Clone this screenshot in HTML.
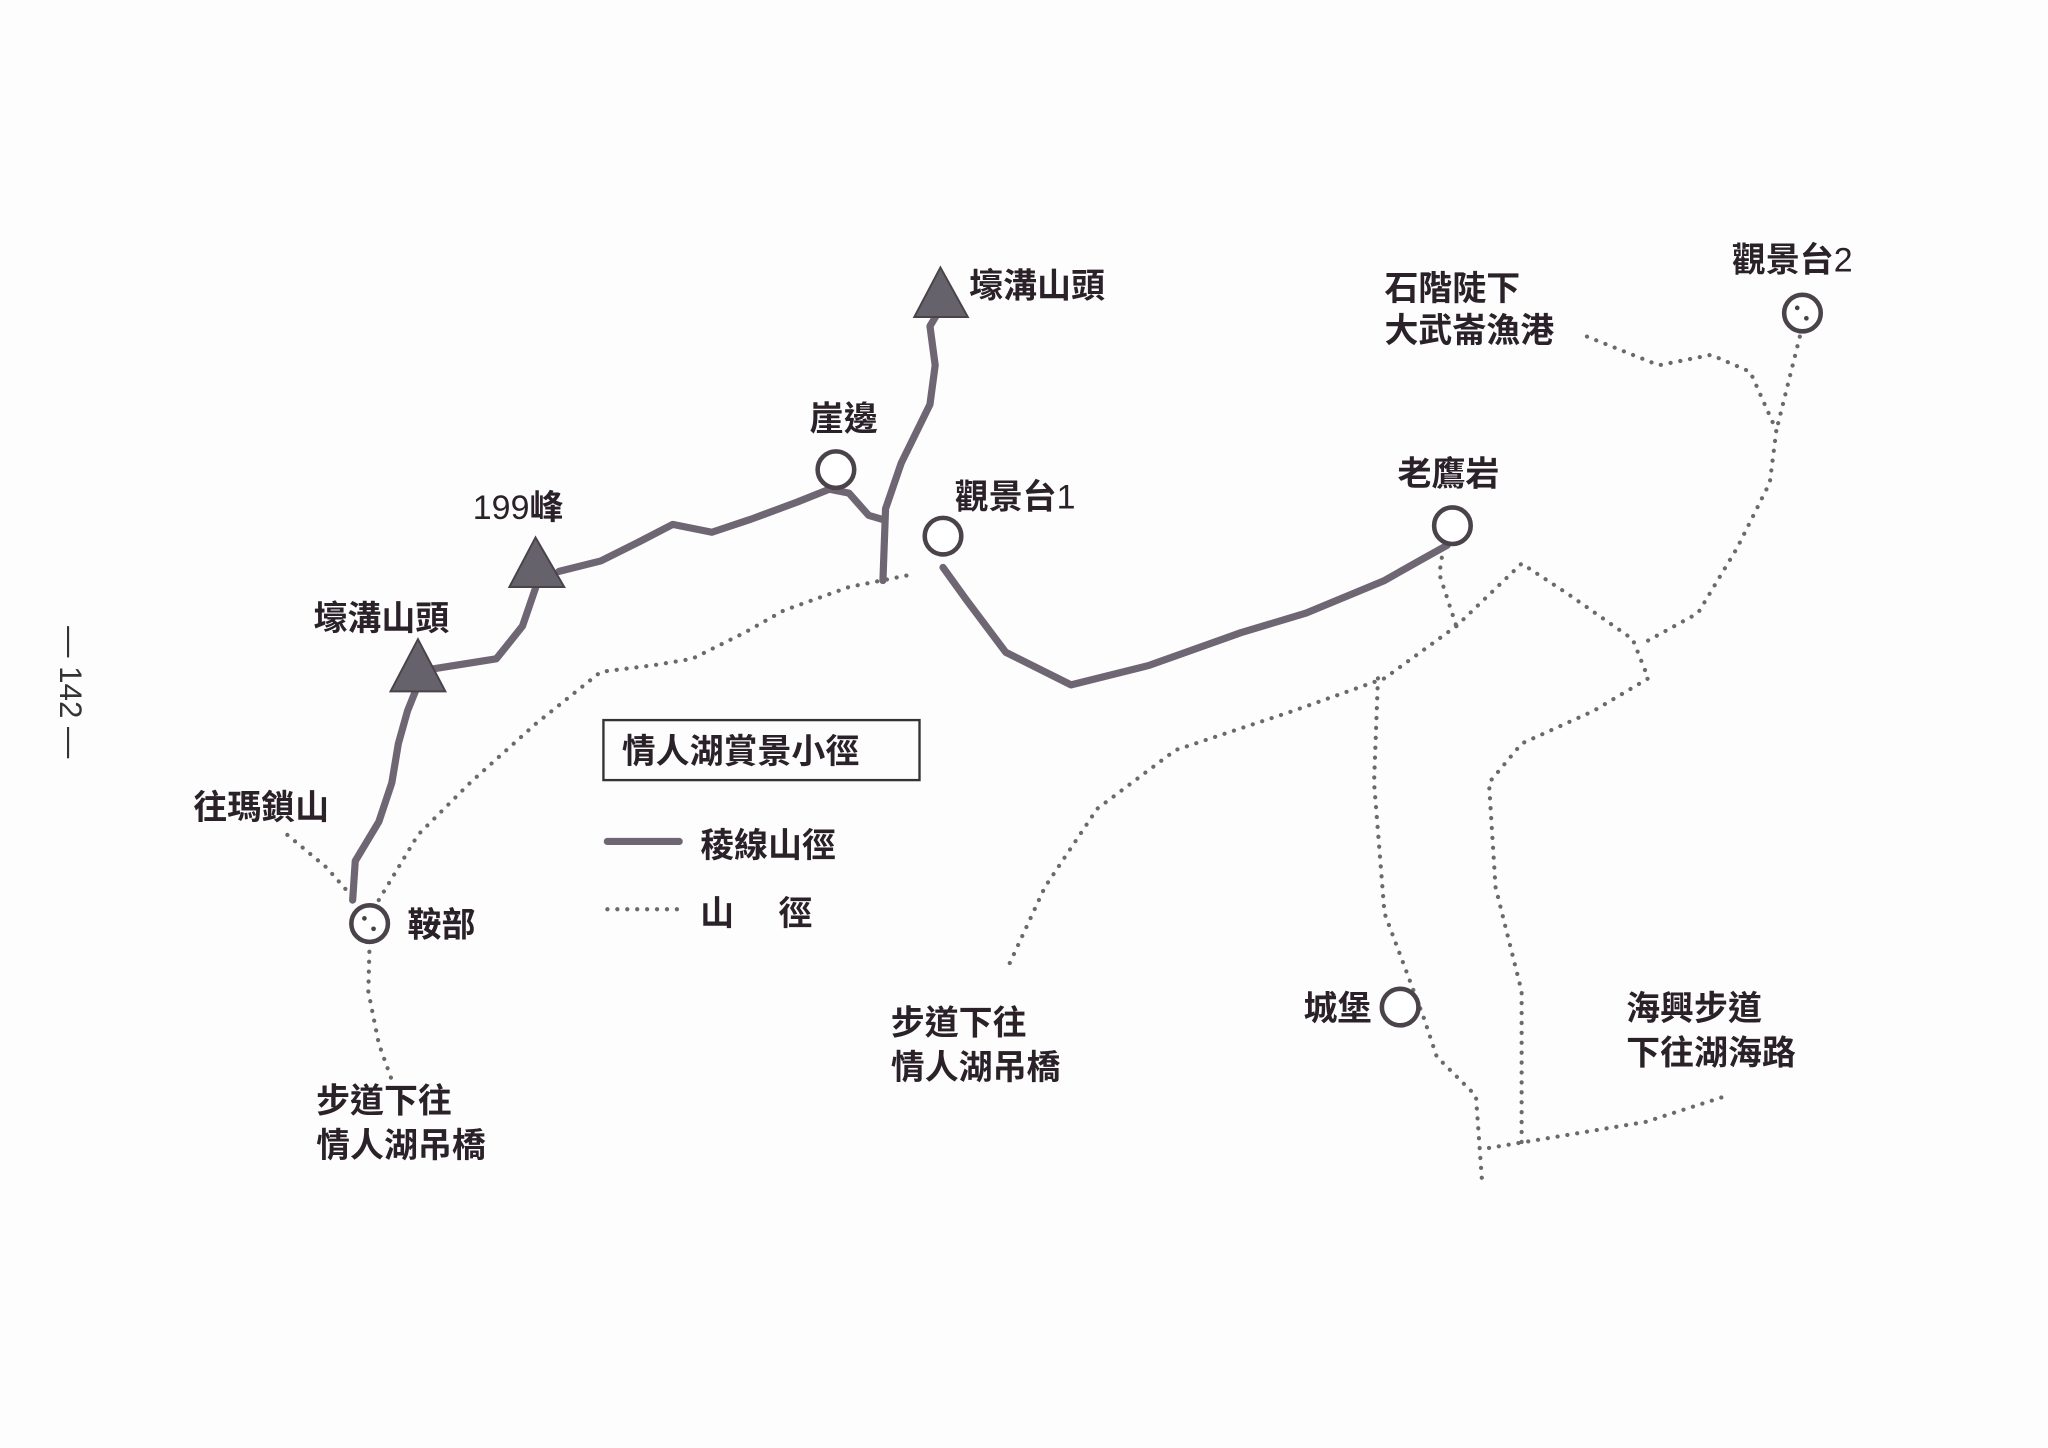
<!DOCTYPE html>
<html><head><meta charset="utf-8"><style>
html,body{margin:0;padding:0;background:#fdfdfd;}
svg{display:block;}
text{font-family:"Liberation Sans","Noto Sans CJK TC",sans-serif;fill:#2a2228;font-weight:bold;font-size:26px;}
.n{font-weight:normal;}
.s{fill:none;stroke:#6e6672;stroke-width:5.5;stroke-linecap:round;stroke-linejoin:round;}
.d{fill:none;stroke:#6a6a6a;stroke-width:3.2;stroke-dasharray:0.1 7.5;stroke-linecap:round;stroke-linejoin:round;}
.c{fill:#fff;stroke:#4a434a;stroke-width:3.5;}
.t{fill:#66626c;stroke:#4a434a;stroke-width:1.5;}
</style></head><body>
<svg width="2048" height="1448" viewBox="0 0 1568 1110" preserveAspectRatio="none" xmlns="http://www.w3.org/2000/svg">
<rect width="1568" height="1110" fill="#fdfdfd"/>
<path class="d" d="M220,640 L250,665 L272,690"/>
<path class="d" d="M283,722 L282,760 L290,800 L300,828"/>
<path class="d" d="M290,690 L320,640 L360,600 L410,555 L460,515 L500,510 L530,505 L570,485 L600,468 L650,450 L700,440"/>
<path class="d" d="M1105,420 L1102,440 L1115,480"/>
<path class="d" d="M1115,480 L1060,520 L990,545 L900,575 L840,620 L800,680 L770,745"/>
<path class="d" d="M1115,480 L1165,432 L1200,455 L1250,490 L1262,520 L1220,545 L1165,570 L1140,600 L1145,680 L1165,760 L1165,880"/>
<path class="d" d="M1055,520 L1052,600 L1060,700 L1090,780 L1100,810 L1130,840 L1135,910"/>
<path class="d" d="M1140,880 L1200,870 L1260,860 L1322,840"/>
<path class="d" d="M1215,258 L1270,280 L1310,272 L1340,285 L1360,330 L1355,370 L1330,420 L1300,470 L1260,492"/>
<path class="d" d="M1378,258 L1370,290 L1360,330"/>
<path class="s" d="M270,690 L272,660 L290,630 L300,600 L305,570 L312,545 L320,525"/>
<path class="s" d="M330,513 L380,505 L400,480 L412,445"/>
<path class="s" d="M428,438 L460,430 L490,415 L515,402 L545,408 L575,398 L610,385 L635,375 L650,378 L665,395 L675,398"/>
<path class="s" d="M676,445 L678,390 L690,355 L712,310 L716,280 L712,250 L718,240"/>
<path class="s" d="M722,435 L740,460 L770,500 L820,525 L880,510 L950,485 L1000,470 L1060,445 L1090,428 L1108,418"/>
<polygon class="t" points="720,205 700,243 741,243"/>
<polygon class="t" points="410,412 390,450 432,450"/>
<polygon class="t" points="320,490 299,530 341,530"/>
<circle class="c" cx="640" cy="360" r="14"/>
<circle class="c" cx="722" cy="411" r="14"/>
<circle class="c" cx="1112" cy="403" r="14"/>
<circle class="c" cx="1072" cy="772" r="14"/>
<circle class="c" cx="1380" cy="240" r="14"/>
<circle cx="1376" cy="236" r="1.8" fill="#444"/><circle cx="1383" cy="244" r="1.8" fill="#444"/>
<circle class="c" cx="283" cy="708" r="14"/>
<circle cx="279" cy="704" r="1.8" fill="#444"/><circle cx="286" cy="712" r="1.8" fill="#444"/>
<text x="742" y="228">壕溝山頭</text>
<text x="620" y="330">崖邊</text>
<text x="362" y="398" class="n">199<tspan font-weight="bold">峰</tspan></text>
<text x="240" y="483">壕溝山頭</text>
<text x="731" y="390">觀景台<tspan class="n">1</tspan></text>
<text x="1070" y="372">老鷹岩</text>
<text x="1060" y="230">石階陡下</text>
<text x="1060" y="262">大武崙漁港</text>
<text x="1326" y="208">觀景台<tspan class="n">2</tspan></text>
<text x="148" y="628">往瑪鎖山</text>
<text x="312" y="718">鞍部</text>
<text x="242" y="853">步道下往</text>
<text x="242" y="887">情人湖吊橋</text>
<text x="682" y="793">步道下往</text>
<text x="682" y="827">情人湖吊橋</text>
<text x="998" y="782">城堡</text>
<text x="1245" y="782">海興步道</text>
<text x="1245" y="816">下往湖海路</text>
<rect x="462" y="552" width="242" height="46" fill="none" stroke="#333" stroke-width="1.8"/>
<text x="476" y="585">情人湖賞景小徑</text>
<path class="s" d="M465,645 L520,645"/>
<text x="536" y="657">稜線山徑</text>
<path class="d" d="M465,697 L520,697"/>
<text x="536" y="709">山</text><text x="596" y="709">徑</text>
<text class="n" x="0" y="0" transform="translate(46,480) rotate(90)" style="font-size:24px;fill:#333">— 142 —</text>
</svg>
</body></html>
